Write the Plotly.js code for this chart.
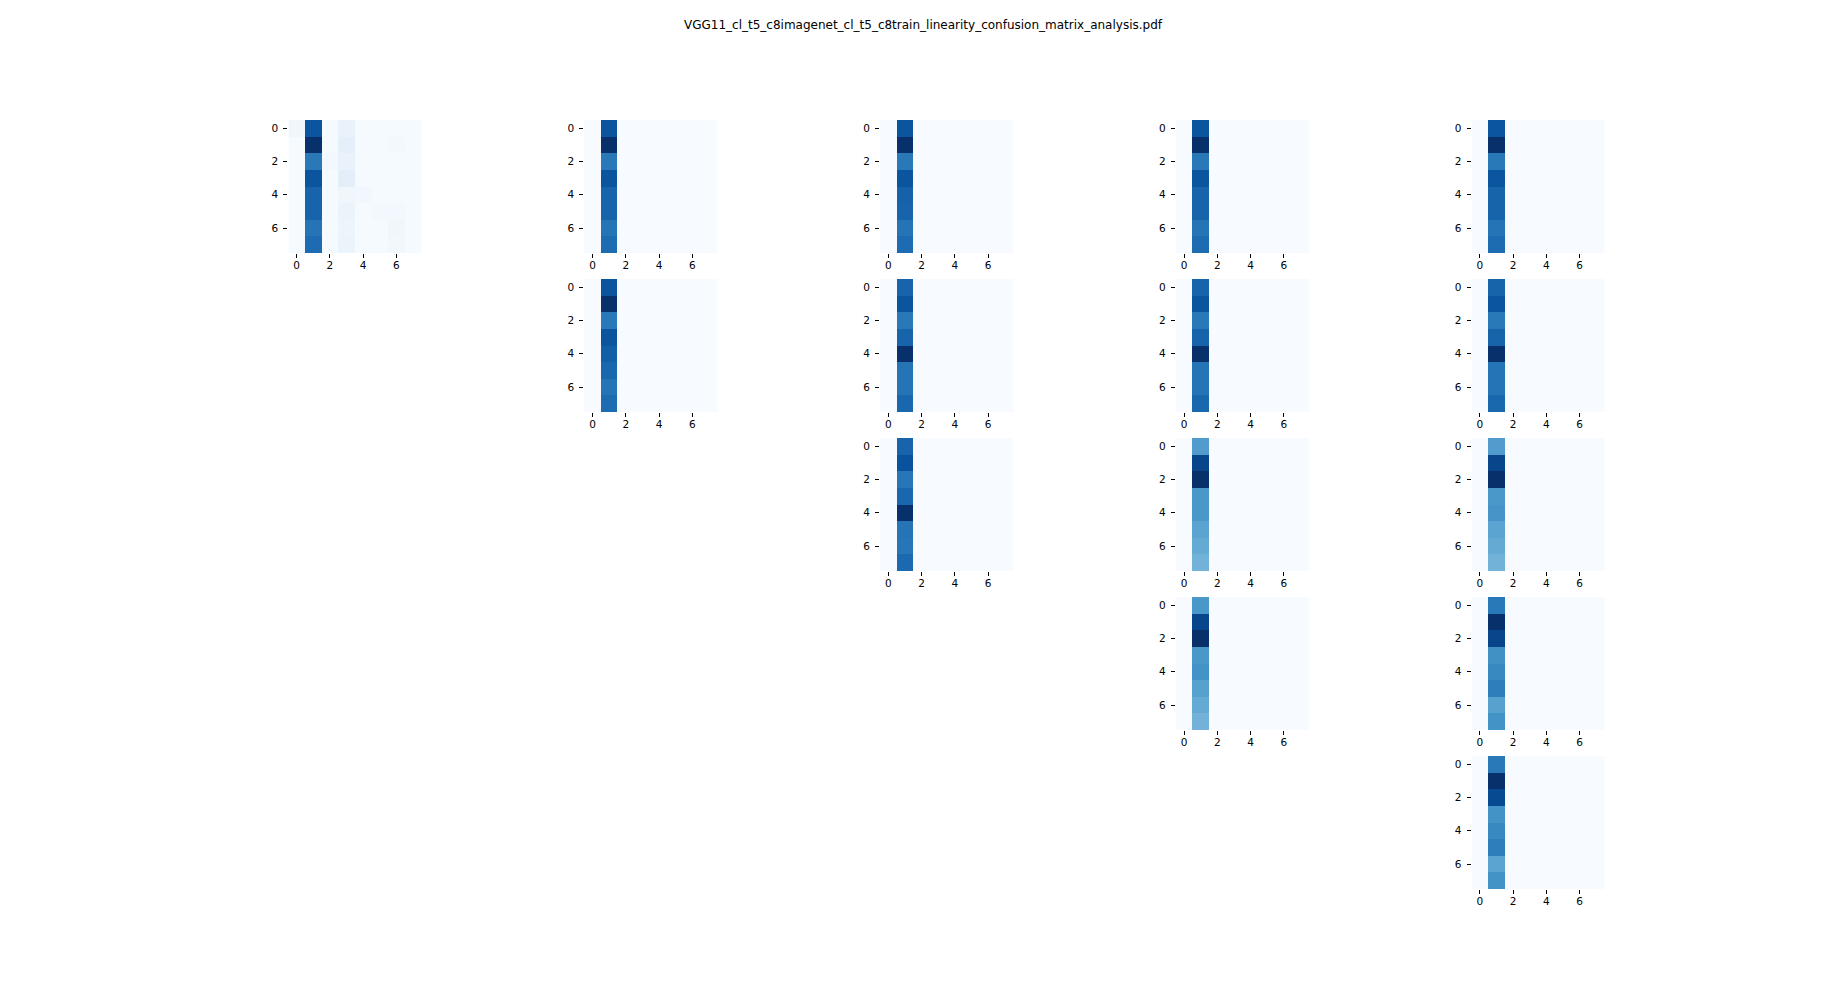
<!DOCTYPE html>
<html>
<head>
<meta charset="utf-8">
<script src="https://cdn.plot.ly/plotly-3.0.1.min.js"></script>
<style>html,body{margin:0;padding:0;background:#fff;}#chart{width:1846px;height:999px;}</style>
</head>
<body>
<div id="chart"></div>
<script>
// Class indices (true label rows, predicted label columns)
const classes = [0, 1, 2, 3, 4, 5, 6, 7];
const tickVals = [0, 2, 4, 6];
const tickText = ['0', '2', '4', '6'];
const figTitle = 'VGG11_cl_t5_c8imagenet_cl_t5_c8train_linearity_confusion_matrix_analysis.pdf';

// Confusion matrices (row r, column c of the subplot grid)
const m_0_0 = [
  [0.04, 0.86, 0.01, 0.07, 0.01, 0.01, 0.01, 0.01],
  [0.01, 1.00, 0.01, 0.09, 0.01, 0.01, 0.02, 0.01],
  [0.01, 0.72, 0.02, 0.07, 0.01, 0.01, 0.01, 0.01],
  [0.01, 0.86, 0.01, 0.10, 0.01, 0.01, 0.01, 0.01],
  [0.01, 0.80, 0.01, 0.04, 0.03, 0.01, 0.01, 0.01],
  [0.01, 0.80, 0.01, 0.06, 0.01, 0.02, 0.02, 0.01],
  [0.01, 0.74, 0.01, 0.05, 0.01, 0.01, 0.04, 0.01],
  [0.01, 0.77, 0.01, 0.06, 0.01, 0.01, 0.03, 0.01]
];
const m_0_1 = [
  [0, 0.86, 0, 0, 0, 0, 0, 0],
  [0, 1.00, 0, 0, 0, 0, 0, 0],
  [0, 0.72, 0, 0, 0, 0, 0, 0],
  [0, 0.86, 0, 0, 0, 0, 0, 0],
  [0, 0.80, 0, 0, 0, 0, 0, 0],
  [0, 0.80, 0, 0, 0, 0, 0, 0],
  [0, 0.74, 0, 0, 0, 0, 0, 0],
  [0, 0.77, 0, 0, 0, 0, 0, 0]
];
const m_1_1 = [
  [0, 0.86, 0, 0, 0, 0, 0, 0],
  [0, 1.00, 0, 0, 0, 0, 0, 0],
  [0, 0.72, 0, 0, 0, 0, 0, 0],
  [0, 0.86, 0, 0, 0, 0, 0, 0],
  [0, 0.82, 0, 0, 0, 0, 0, 0],
  [0, 0.79, 0, 0, 0, 0, 0, 0],
  [0, 0.74, 0, 0, 0, 0, 0, 0],
  [0, 0.77, 0, 0, 0, 0, 0, 0]
];
const m_0_2 = [
  [0, 0.86, 0, 0, 0, 0, 0, 0],
  [0, 1.00, 0, 0, 0, 0, 0, 0],
  [0, 0.72, 0, 0, 0, 0, 0, 0],
  [0, 0.86, 0, 0, 0, 0, 0, 0],
  [0, 0.81, 0, 0, 0, 0, 0, 0],
  [0, 0.80, 0, 0, 0, 0, 0, 0],
  [0, 0.74, 0, 0, 0, 0, 0, 0],
  [0, 0.77, 0, 0, 0, 0, 0, 0]
];
const m_1_2 = [
  [0, 0.80, 0, 0, 0, 0, 0, 0],
  [0, 0.86, 0, 0, 0, 0, 0, 0],
  [0, 0.72, 0, 0, 0, 0, 0, 0],
  [0, 0.80, 0, 0, 0, 0, 0, 0],
  [0, 1.00, 0, 0, 0, 0, 0, 0],
  [0, 0.74, 0, 0, 0, 0, 0, 0],
  [0, 0.74, 0, 0, 0, 0, 0, 0],
  [0, 0.79, 0, 0, 0, 0, 0, 0]
];
const m_2_2 = [
  [0, 0.80, 0, 0, 0, 0, 0, 0],
  [0, 0.87, 0, 0, 0, 0, 0, 0],
  [0, 0.73, 0, 0, 0, 0, 0, 0],
  [0, 0.79, 0, 0, 0, 0, 0, 0],
  [0, 1.00, 0, 0, 0, 0, 0, 0],
  [0, 0.74, 0, 0, 0, 0, 0, 0],
  [0, 0.73, 0, 0, 0, 0, 0, 0],
  [0, 0.78, 0, 0, 0, 0, 0, 0]
];
const m_0_3 = [
  [0, 0.86, 0, 0, 0, 0, 0, 0],
  [0, 1.00, 0, 0, 0, 0, 0, 0],
  [0, 0.72, 0, 0, 0, 0, 0, 0],
  [0, 0.86, 0, 0, 0, 0, 0, 0],
  [0, 0.80, 0, 0, 0, 0, 0, 0],
  [0, 0.80, 0, 0, 0, 0, 0, 0],
  [0, 0.74, 0, 0, 0, 0, 0, 0],
  [0, 0.77, 0, 0, 0, 0, 0, 0]
];
const m_1_3 = [
  [0, 0.80, 0, 0, 0, 0, 0, 0],
  [0, 0.86, 0, 0, 0, 0, 0, 0],
  [0, 0.72, 0, 0, 0, 0, 0, 0],
  [0, 0.80, 0, 0, 0, 0, 0, 0],
  [0, 1.00, 0, 0, 0, 0, 0, 0],
  [0, 0.74, 0, 0, 0, 0, 0, 0],
  [0, 0.74, 0, 0, 0, 0, 0, 0],
  [0, 0.79, 0, 0, 0, 0, 0, 0]
];
const m_2_3 = [
  [0, 0.58, 0, 0, 0, 0, 0, 0],
  [0, 0.92, 0, 0, 0, 0, 0, 0],
  [0, 1.00, 0, 0, 0, 0, 0, 0],
  [0, 0.60, 0, 0, 0, 0, 0, 0],
  [0, 0.60, 0, 0, 0, 0, 0, 0],
  [0, 0.55, 0, 0, 0, 0, 0, 0],
  [0, 0.52, 0, 0, 0, 0, 0, 0],
  [0, 0.48, 0, 0, 0, 0, 0, 0]
];
const m_3_3 = [
  [0, 0.60, 0, 0, 0, 0, 0, 0],
  [0, 0.92, 0, 0, 0, 0, 0, 0],
  [0, 1.00, 0, 0, 0, 0, 0, 0],
  [0, 0.60, 0, 0, 0, 0, 0, 0],
  [0, 0.62, 0, 0, 0, 0, 0, 0],
  [0, 0.56, 0, 0, 0, 0, 0, 0],
  [0, 0.52, 0, 0, 0, 0, 0, 0],
  [0, 0.48, 0, 0, 0, 0, 0, 0]
];
const m_0_4 = [
  [0, 0.86, 0, 0, 0, 0, 0, 0],
  [0, 1.00, 0, 0, 0, 0, 0, 0],
  [0, 0.72, 0, 0, 0, 0, 0, 0],
  [0, 0.86, 0, 0, 0, 0, 0, 0],
  [0, 0.80, 0, 0, 0, 0, 0, 0],
  [0, 0.80, 0, 0, 0, 0, 0, 0],
  [0, 0.74, 0, 0, 0, 0, 0, 0],
  [0, 0.77, 0, 0, 0, 0, 0, 0]
];
const m_1_4 = [
  [0, 0.80, 0, 0, 0, 0, 0, 0],
  [0, 0.86, 0, 0, 0, 0, 0, 0],
  [0, 0.72, 0, 0, 0, 0, 0, 0],
  [0, 0.80, 0, 0, 0, 0, 0, 0],
  [0, 1.00, 0, 0, 0, 0, 0, 0],
  [0, 0.74, 0, 0, 0, 0, 0, 0],
  [0, 0.74, 0, 0, 0, 0, 0, 0],
  [0, 0.79, 0, 0, 0, 0, 0, 0]
];
const m_2_4 = [
  [0, 0.58, 0, 0, 0, 0, 0, 0],
  [0, 0.92, 0, 0, 0, 0, 0, 0],
  [0, 1.00, 0, 0, 0, 0, 0, 0],
  [0, 0.60, 0, 0, 0, 0, 0, 0],
  [0, 0.61, 0, 0, 0, 0, 0, 0],
  [0, 0.55, 0, 0, 0, 0, 0, 0],
  [0, 0.52, 0, 0, 0, 0, 0, 0],
  [0, 0.48, 0, 0, 0, 0, 0, 0]
];
const m_3_4 = [
  [0, 0.72, 0, 0, 0, 0, 0, 0],
  [0, 1.00, 0, 0, 0, 0, 0, 0],
  [0, 0.92, 0, 0, 0, 0, 0, 0],
  [0, 0.63, 0, 0, 0, 0, 0, 0],
  [0, 0.66, 0, 0, 0, 0, 0, 0],
  [0, 0.70, 0, 0, 0, 0, 0, 0],
  [0, 0.56, 0, 0, 0, 0, 0, 0],
  [0, 0.62, 0, 0, 0, 0, 0, 0]
];
const m_4_4 = [
  [0, 0.72, 0, 0, 0, 0, 0, 0],
  [0, 1.00, 0, 0, 0, 0, 0, 0],
  [0, 0.90, 0, 0, 0, 0, 0, 0],
  [0, 0.62, 0, 0, 0, 0, 0, 0],
  [0, 0.66, 0, 0, 0, 0, 0, 0],
  [0, 0.70, 0, 0, 0, 0, 0, 0],
  [0, 0.55, 0, 0, 0, 0, 0, 0],
  [0, 0.62, 0, 0, 0, 0, 0, 0]
];

const panels = [
  [0, 0, m_0_0],
  [0, 1, m_0_1], [1, 1, m_1_1],
  [0, 2, m_0_2], [1, 2, m_1_2], [2, 2, m_2_2],
  [0, 3, m_0_3], [1, 3, m_1_3], [2, 3, m_2_3], [3, 3, m_3_3],
  [0, 4, m_0_4], [1, 4, m_1_4], [2, 4, m_2_4], [3, 4, m_3_4], [4, 4, m_4_4]
];

// matplotlib "Blues"
const blues = [
  [0, '#f7fbff'], [0.125, '#deebf7'], [0.25, '#c6dbef'], [0.375, '#9ecae1'],
  [0.5, '#6baed6'], [0.625, '#4292c6'], [0.75, '#2171b5'], [0.875, '#08519c'], [1, '#08306b']
];

const W = 1846, H = 999;
const x0 = 288.4, xStep = 295.8, y0 = 120.0, yStep = 159.0, size = 133;

const data = [];
const layout = {
  width: W, height: H,
  margin: {l: 0, r: 0, t: 0, b: 0},
  paper_bgcolor: '#ffffff', plot_bgcolor: '#ffffff',
  showlegend: false,
  font: {family: 'DejaVu Sans', color: '#000000', size: 10},
  title: {
    text: figTitle,
    font: {family: 'DejaVu Sans', size: 12, color: '#000000'},
    x: 0.5, xanchor: 'center', xref: 'paper',
    y: 1 - 25 / H, yanchor: 'middle', yref: 'container'
  }
};

panels.forEach(function (p, i) {
  const r = p[0], c = p[1], z = p[2];
  const n = i + 1;
  const xa = 'x' + (n === 1 ? '' : n), ya = 'y' + (n === 1 ? '' : n);
  const zmax = Math.max.apply(null, z.map(function (row) { return Math.max.apply(null, row); }));
  data.push({
    type: 'heatmap', x: classes, y: classes, z: z,
    xaxis: xa, yaxis: ya,
    colorscale: blues, zmin: 0, zmax: zmax,
    showscale: false, hoverinfo: 'z'
  });
  const left = x0 + c * xStep, top = y0 + r * yStep;
  const axCommon = {
    showgrid: false, zeroline: false, showline: false,
    ticks: 'outside', ticklen: 4, tickwidth: 1, tickcolor: '#000000',
    tickmode: 'array', tickvals: tickVals, ticktext: tickText,
    tickfont: {family: 'DejaVu Sans', size: 10.5, color: '#000000'},
    fixedrange: true
  };
  layout['xaxis' + (n === 1 ? '' : n)] = Object.assign({}, axCommon, {
    domain: [left / W, (left + size) / W],
    range: [-0.5, 7.5],
    ticklabelstandoff: -2,
    anchor: ya
  });
  layout['yaxis' + (n === 1 ? '' : n)] = Object.assign({}, axCommon, {
    domain: [1 - (top + size) / H, 1 - top / H],
    range: [7.5, -0.5],
    ticklabelstandoff: 3,
    anchor: xa
  });
});

Plotly.newPlot('chart', data, layout, {displayModeBar: false, staticPlot: true});
</script>
</body>
</html>
